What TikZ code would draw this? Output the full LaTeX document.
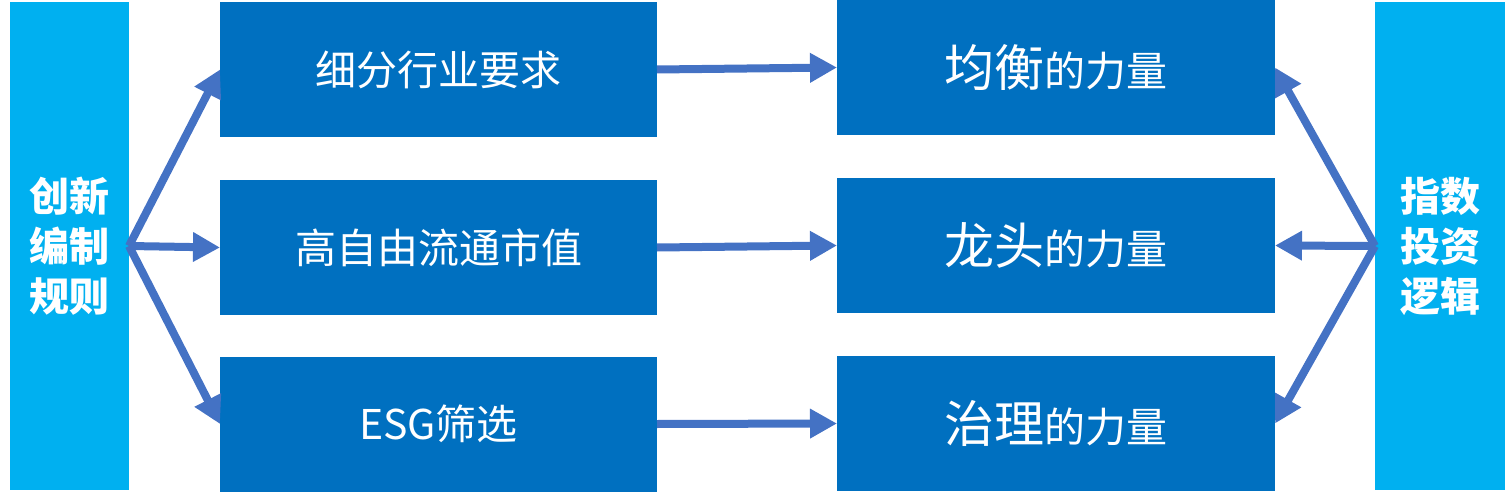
\documentclass[tikz,border=0pt]{standalone}
\usepackage{fontspec}
\newfontfamily\cjk{Noto Sans CJK SC}
\usetikzlibrary{arrows.meta}
\definecolor{barc}{HTML}{00B0F0}
\definecolor{boxc}{HTML}{0070C0}
\definecolor{arrc}{HTML}{4472C4}
\begin{document}
\begin{tikzpicture}[x=1pt,y=-1pt,
  bar/.style={fill=barc, draw=none, minimum width=119pt, minimum height=488pt, inner sep=0pt, outer sep=0pt, text=white, font=\cjk\bfseries\fontsize{40}{50}\selectfont, align=center},
  rbar/.style={bar, minimum width=130pt},
  boxl/.style={fill=boxc, draw=none, minimum width=437pt, minimum height=135pt, inner sep=0pt, outer sep=0pt, text=white, font=\cjk\fontsize{41}{44}\selectfont},
  boxr/.style={boxl, minimum width=438pt, font=\cjk\fontsize{41}{48}\selectfont},
  big/.style={font=\fontsize{50}{54}\selectfont},
  arr/.style={draw=arrc, line width=8pt, -{Triangle[length=27pt,width=28pt]}}
]
\useasboundingbox (0,0) rectangle (1510,492);
\node[bar] (L) at (69.5,246) {创新\\编制\\规则};
\node[rbar] (R) at (1440,246) {指数\\投资\\逻辑};
\node[boxl] (a1) at (438.5,69.5) {细分行业要求};
\node[boxl] (a2) at (438.5,247.5) {高自由流通市值};
\node[boxl] (a3) at (438.5,424) {ESG筛选};
\node[boxr] (b1) at (1056,67.5) {{\fontsize{50}{54}\selectfont 均衡}的力量};
\node[boxr] (b2) at (1056,245.5) {{\fontsize{50}{54}\selectfont 龙头}的力量};
\node[boxr] (b3) at (1056,423.5) {{\fontsize{50}{54}\selectfont 治理}的力量};
\draw[arr] (L.east) -- (a1.west);
\draw[arr] (L.east) -- (a2.west);
\draw[arr] (L.east) -- (a3.west);
\draw[arr] (a1.east) -- (b1.west);
\draw[arr] (a2.east) -- (b2.west);
\draw[arr] (a3.east) -- (b3.west);
\draw[arr] (R.west) -- (b1.east);
\draw[arr] (R.west) -- (b2.east);
\draw[arr] (R.west) -- (b3.east);
\end{tikzpicture}
\end{document}
